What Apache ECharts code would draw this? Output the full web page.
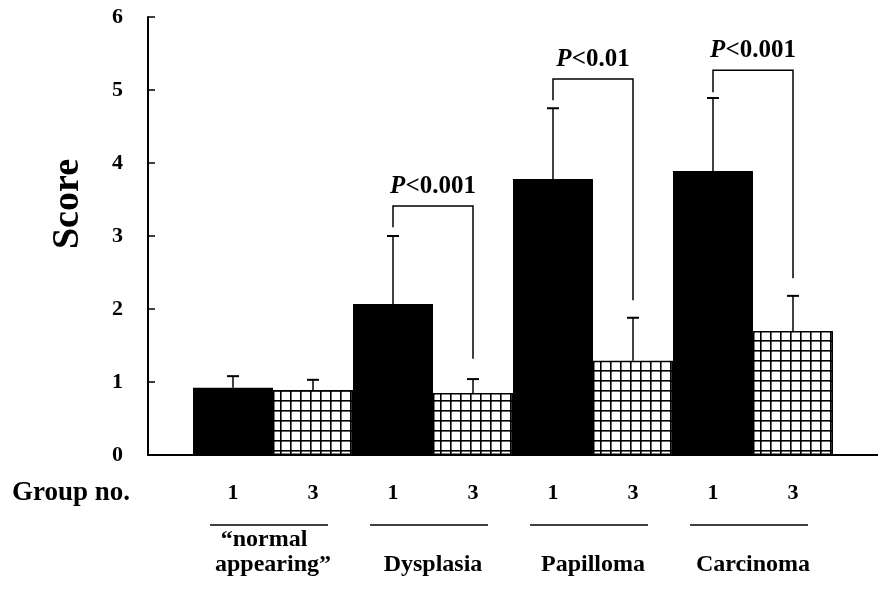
<!DOCTYPE html>
<html>
<head>
<meta charset="utf-8">
<script src="https://cdn.jsdelivr.net/npm/echarts@6/dist/echarts.min.js"></script>
<style>
html,body{margin:0;padding:0;background:#fff;}
#chart{width:878px;height:597px;}
</style>
</head>
<body>
<div id="chart"></div>
<script>
// ---- data ----
var categories = ['\u201cnormal   \nappearing\u201d', 'Dysplasia', 'Papilloma', 'Carcinoma'];
var groupLabels = ['1', '3', '1', '3', '1', '3', '1', '3'];
var yTicks = [0, 1, 2, 3, 4, 5, 6];
var group1Mean = [0.92, 2.07, 3.78, 3.89];
var group1SD   = [0.16, 0.93, 0.97, 1.00];
var group3Mean = [0.89, 0.85, 1.29, 1.70];
var group3SD   = [0.14, 0.19, 0.59, 0.48];
var pLabels       = [null, '<0.001', '<0.01', '<0.001'];
var bracketTop    = [null, 3.41, 5.15, 5.27];
var bracketLeftEnd  = [null, 3.12, 4.86, 4.97];
var bracketRightEnd = [null, 1.32, 2.12, 2.42];

var FONT = '"Liberation Serif", "Times New Roman", serif';

// grid (checked) pattern for group 3 bars
var pc = document.createElement('canvas');
pc.width = 10; pc.height = 10;
var pctx = pc.getContext('2d');
pctx.fillStyle = '#fff'; pctx.fillRect(0, 0, 10, 10);
pctx.fillStyle = '#000';
pctx.fillRect(0, 0, 10, 1.6);
pctx.fillRect(0, 0, 1.6, 10);

var errData = [];
for (var i = 0; i < categories.length; i++) {
  errData.push([i, -1, group1Mean[i], group1Mean[i] + group1SD[i]]);
  errData.push([i, 1, group3Mean[i], group3Mean[i] + group3SD[i]]);
}
var bracketData = [];
for (var j = 0; j < categories.length; j++) {
  if (bracketTop[j] != null) bracketData.push([j, bracketTop[j], bracketLeftEnd[j], bracketRightEnd[j]]);
}
var underlineData = categories.map(function (c, k) { return [k, 0]; });

var chart = echarts.init(document.getElementById('chart'));
var lineStyle = { stroke: '#000', lineWidth: 1.5 };

chart.setOption({
  backgroundColor: '#fff',
  animation: false,
  grid: [
    { left: 148, right: 0, top: 17, bottom: 142, outerBoundsMode: 'none', containLabel: false },
    { left: 193, right: 45, top: 17, bottom: 142, outerBoundsMode: 'none', containLabel: false }
  ],
  xAxis: [
    { gridIndex: 0, type: 'value', min: 0, max: 1, axisLine: { show: true, lineStyle: { color: '#000', width: 2 } },
      axisTick: { show: false }, axisLabel: { show: false }, splitLine: { show: false } },
    { gridIndex: 1, type: 'category', position: 'bottom', offset: 0, data: categories, axisLine: { show: false }, axisTick: { show: false },
      axisLabel: { margin: 122, verticalAlign: 'bottom', color: '#000', fontFamily: FONT, fontWeight: 'bold', fontSize: 24, lineHeight: 25 } },
    { gridIndex: 1, type: 'category', position: 'bottom', offset: 0, data: groupLabels, axisLine: { show: false }, axisTick: { show: false },
      axisLabel: { margin: 27, color: '#000', fontFamily: FONT, fontWeight: 'bold', fontSize: 22 } }
  ],
  yAxis: [
    { gridIndex: 0, type: 'value', min: yTicks[0], max: yTicks[yTicks.length - 1], interval: 1,
      axisLine: { show: true, lineStyle: { color: '#000', width: 2 } },
      axisTick: { show: true, inside: true, length: 7, lineStyle: { color: '#000', width: 1.5 } },
      axisLabel: { margin: 25, color: '#000', fontFamily: FONT, fontWeight: 'bold', fontSize: 22, padding: [10, 0, 0, 0] },
      splitLine: { show: false } },
    { gridIndex: 1, type: 'value', min: yTicks[0], max: yTicks[yTicks.length - 1], interval: 1, show: false }
  ],
  graphic: [
    { type: 'text', x: 68, y: 204, rotation: Math.PI / 2,
      style: { text: 'Score', align: 'center', verticalAlign: 'middle', fill: '#000',
               font: 'bold 38px ' + FONT } },
    { type: 'text', x: 12, y: 493,
      style: { text: 'Group no.', align: 'left', verticalAlign: 'middle', fill: '#000',
               font: 'bold 27px ' + FONT } }
  ],
  series: [
    { type: 'bar', xAxisIndex: 1, yAxisIndex: 1, data: group1Mean, barGap: '0%', barCategoryGap: '0%',
      itemStyle: { color: '#000' } },
    { type: 'bar', xAxisIndex: 1, yAxisIndex: 1, data: group3Mean,
      itemStyle: { color: { image: pc, repeat: 'repeat' }, borderColor: '#000', borderWidth: 1.5 } },
    { type: 'custom', xAxisIndex: 1, yAxisIndex: 1, data: errData, z: 5,
      renderItem: function (params, api) {
        var idx = api.value(0), side = api.value(1);
        var bw = api.size([1, 0])[0] / 2;
        var base = api.coord([idx, api.value(2)]);
        var top = api.coord([idx, api.value(3)]);
        var x = base[0] + side * bw / 2;
        return { type: 'group', children: [
          { type: 'line', shape: { x1: x, y1: base[1], x2: x, y2: top[1] }, style: lineStyle },
          { type: 'line', shape: { x1: x - 6, y1: top[1], x2: x + 6, y2: top[1] }, style: { stroke: '#000', lineWidth: 2 } }
        ] };
      } },
    { type: 'custom', xAxisIndex: 1, yAxisIndex: 1, data: bracketData, z: 5, clip: false,
      renderItem: function (params, api) {
        var idx = api.value(0);
        var bw = api.size([1, 0])[0] / 2;
        var c = api.coord([idx, api.value(1)]);
        var le = api.coord([idx, api.value(2)]);
        var re = api.coord([idx, api.value(3)]);
        var xl = c[0] - bw / 2, xr = c[0] + bw / 2;
        return { type: 'group', children: [
          { type: 'polyline', shape: { points: [[xl, le[1]], [xl, c[1]], [xr, c[1]], [xr, re[1]]] },
            style: { stroke: '#000', lineWidth: 1.5, fill: null } },
          { type: 'text', x: c[0], y: c[1] - 20,
            style: { text: '{i|P}{n|' + pLabels[idx] + '}', align: 'center', verticalAlign: 'middle',
              rich: { i: { fontFamily: FONT, fontWeight: 'bold', fontStyle: 'italic', fontSize: 25, fill: '#000' },
                      n: { fontFamily: FONT, fontWeight: 'bold', fontSize: 25, fill: '#000' } } } }
        ] };
      } },
    { type: 'custom', xAxisIndex: 1, yAxisIndex: 1, data: underlineData, clip: false,
      renderItem: function (params, api) {
        var c = api.coord([api.value(0), 0]);
        return { type: 'line', shape: { x1: c[0] - 63, y1: c[1] + 70, x2: c[0] + 55, y2: c[1] + 70 },
                 style: { stroke: '#000', lineWidth: 1.3 } };
      } }
  ]
});
</script>
</body>
</html>
